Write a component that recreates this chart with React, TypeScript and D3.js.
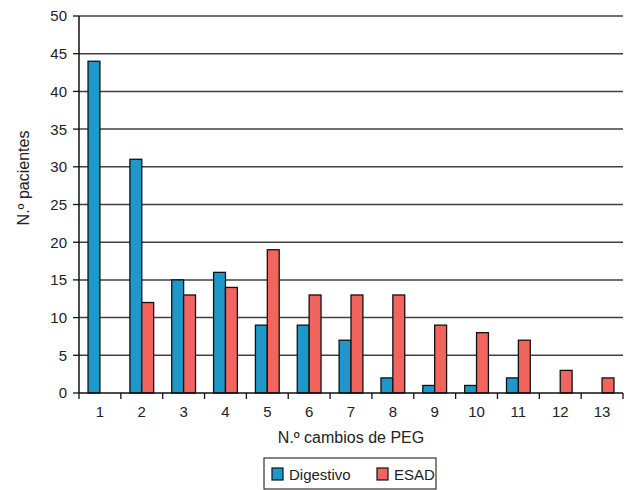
import React from "react";
import * as d3 from "d3";

const categories = ["1", "2", "3", "4", "5", "6", "7", "8", "9", "10", "11", "12", "13"];
const digestivo = [44, 31, 15, 16, 9, 9, 7, 2, 1, 1, 2, 0, 0];
const esad = [0, 12, 13, 14, 19, 13, 13, 13, 9, 8, 7, 3, 2];
const seriesNames = ["Digestivo", "ESAD"];
const seriesColors = ["#1f98c9", "#f2655f"];
const yTicks = [0, 5, 10, 15, 20, 25, 30, 35, 40, 45, 50];

const W = 627;
const H = 490;
const left = 79;
const right = 623;
const top = 16;
const bottom = 393;
const font = "'Liberation Sans', Arial, sans-serif";

export default function App() {
  const x = d3.scaleBand<string>().domain(categories).range([left, right]).padding(0);
  const xs = d3.scaleBand<string>().domain(seriesNames).range([0, x.bandwidth()]).paddingInner(0).paddingOuter(0.76);
  const y = d3.scaleLinear().domain([0, 50]).range([bottom, top]);
  const data = [digestivo, esad];
  const tickXs = categories.map((c) => x(c) as number).concat([right]);

  return (
    <svg width={W} height={H} style={{ position: "absolute", left: 0, top: 0 }} fontFamily={font}>
      <rect x={0} y={0} width={W} height={H} fill="#fff" />
      {yTicks.filter((t) => t > 0).map((t) => (
        <line key={"g" + t} x1={left} x2={right} y1={y(t)} y2={y(t)} stroke="#404040" strokeWidth={1.5} />
      ))}
      {data.map((vals, si) =>
        vals.map((v, i) =>
          v > 0 ? (
            <rect
              key={si + "-" + i}
              x={(x(categories[i]) as number) + (xs(seriesNames[si]) as number)}
              y={y(v)}
              width={xs.bandwidth()}
              height={y(0) - y(v)}
              fill={seriesColors[si]}
              stroke="#111"
              strokeWidth={1.3}
            />
          ) : null
        )
      )}
      <line x1={left} x2={left} y1={top} y2={bottom} stroke="#111" strokeWidth={1.5} />
      <line x1={left} x2={right} y1={bottom} y2={bottom} stroke="#111" strokeWidth={1.5} />
      {yTicks.map((t) => (
        <g key={"yt" + t}>
          <line x1={left - 6} x2={left} y1={y(t)} y2={y(t)} stroke="#111" strokeWidth={1.3} />
          <text x={67} y={y(t)} dy="0.36em" textAnchor="end" fontSize={15} fill="#222">
            {t}
          </text>
        </g>
      ))}
      {tickXs.map((tx, i) => (
        <line key={"xt" + i} x1={tx} x2={tx} y1={bottom} y2={bottom + 6} stroke="#111" strokeWidth={1.3} />
      ))}
      {categories.map((c) => (
        <text key={"xl" + c} x={(x(c) as number) + x.bandwidth() / 2} y={417} textAnchor="middle" fontSize={15} fill="#222">
          {c}
        </text>
      ))}
      <text x={351} y={443} textAnchor="middle" fontSize={16} fill="#222">
        N.º cambios de PEG
      </text>
      <text transform={`translate(29,${178}) rotate(-90)`} textAnchor="middle" fontSize={16} fill="#222">
        N.º pacientes
      </text>
      <rect x={264} y={458} width={172} height={31} fill="#fff" stroke="#333" strokeWidth={1.2} />
      {seriesNames.map((s, i) => {
        const lx = i === 0 ? 272 : 377;
        return (
          <g key={"lg" + s}>
            <rect x={lx} y={468} width={11} height={12} fill={seriesColors[i]} stroke="#111" strokeWidth={1.2} />
            <text x={lx + 17} y={479.5} fontSize={15} fill="#222">
              {s}
            </text>
          </g>
        );
      })}
    </svg>
  );
}
